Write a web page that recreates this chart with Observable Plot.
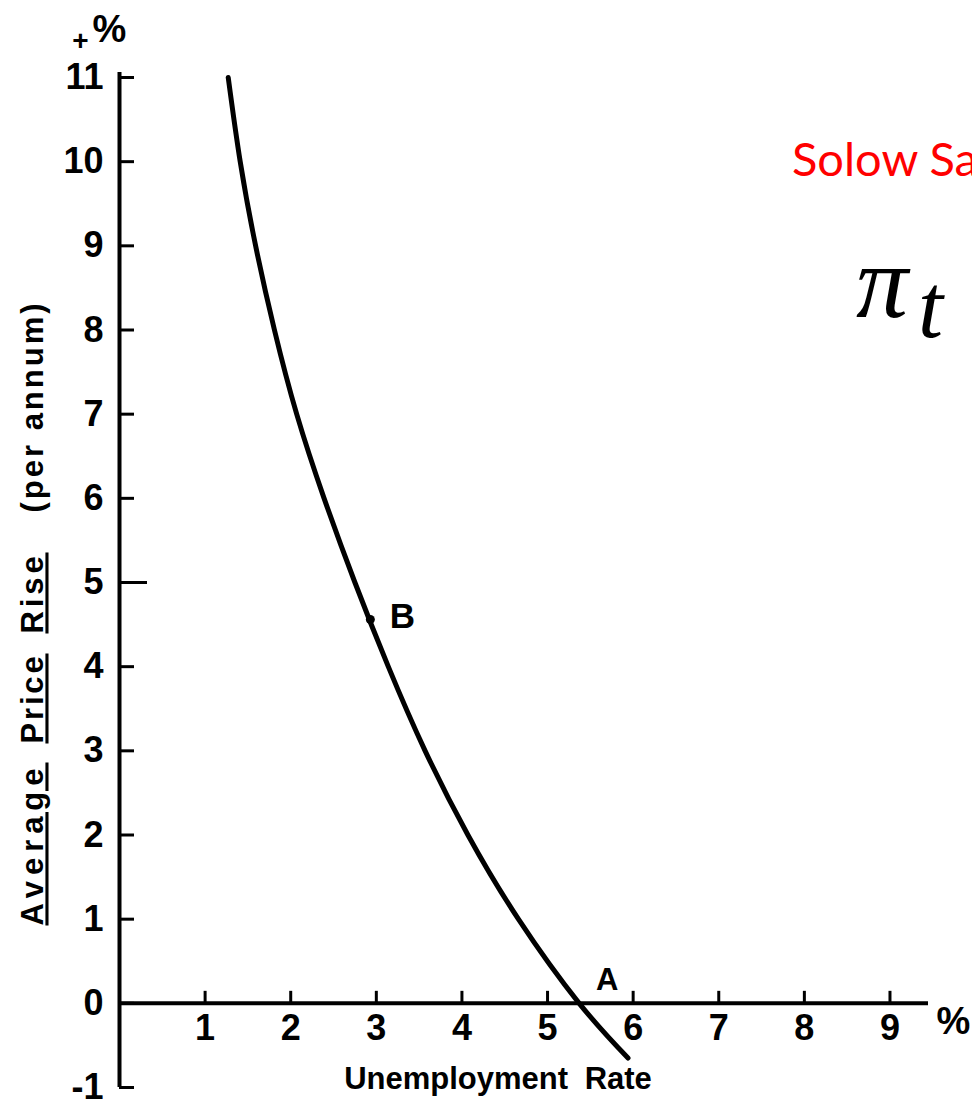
<!DOCTYPE html>
<html>
<head>
<meta charset="utf-8">
<script src="https://cdn.jsdelivr.net/npm/d3@7"></script>
<script src="https://cdn.jsdelivr.net/npm/@observablehq/plot@0.6"></script>
<style>
  html, body { margin: 0; padding: 0; background: #fff; overflow: hidden; width: 972px; height: 1120px; }
  #wrap { position: relative; width: 972px; height: 1120px; overflow: hidden; }
  #chart svg { display: block; }
  #overlay { position: absolute; left: 0; top: 0; pointer-events: none; }
</style>
</head>
<body>
<div id="wrap">
  <div id="chart"></div>
  <svg id="overlay" width="972" height="1120">
    <text id="slideTitle" x="792" y="176" fill="#ff0000" font-family="Lato, 'Open Sans', sans-serif" font-size="47"></text>
    <text id="piSym" x="856" y="317" fill="#000" font-family="'Liberation Serif', serif" font-style="italic" font-size="104"></text>
    <text id="piSub" x="918" y="337" fill="#000" font-family="'Liberation Serif', serif" font-style="italic" font-size="90"></text>
  </svg>
</div>
<script>
// ---- data (Samuelson–Solow Phillips curve) ----
const unemployment = [1.27, 1.41, 1.59, 1.81, 2.07, 2.39, 2.75, 3.14, 3.57, 4.07, 4.66, 5.37, 5.94];
const priceRise    = [11.0, 10.0, 9.0, 8.0, 7.0, 6.0, 5.0, 4.0, 3.0, 2.0, 1.0, 0.0, -0.65];
const xTickValues = [1, 2, 3, 4, 5, 6, 7, 8, 9];
const yTickValues = [-1, 0, 1, 2, 3, 4, 5, 6, 7, 8, 9, 10, 11];
const pointNames = ["A", "B"];
const pointU = [5.37, 2.93];
const pointP = [0, 4.56];
const xAxisLabel = "Unemployment Rate";
const yLabelWords = ["Average", "Price", "Rise", "(per annum)"];
const yLabelUnderlined = [true, true, true, false];
const slideTitle = "Solow Sa";
const slideSymbol = "π";
const slideSubscript = "t";

const curve = unemployment.map((u, i) => ({u, p: priceRise[i]}));
const pointA = [{name: pointNames[0], u: pointU[0], p: pointP[0]}];
const pointB = [{name: pointNames[1], u: pointU[1], p: pointP[1]}];

const font = "'Liberation Sans', Arial, sans-serif";
const fmt = d => d < 0 ? "-" + Math.abs(d) : String(d);
const mid = {textAnchor: "middle", lineAnchor: "middle"};

const chart = Plot.plot({
  width: 972,
  height: 1120,
  marginLeft: 119,
  marginRight: 44,
  marginTop: 77,
  marginBottom: 33,
  x: {domain: [0, 9.45], axis: null},
  y: {domain: [-1, 11]},
  style: {fontFamily: font, color: "#000", background: "#fff", overflow: "visible"},
  marks: [
    // axes lines
    Plot.ruleX([0], {y1: 11, y2: -1, insetTop: -5, stroke: "#000", strokeWidth: 4}),
    Plot.ruleY([0], {x1: 0, x2: 9.45, stroke: "#000", strokeWidth: 4}),
    // y ticks (pointing right, inside)
    Plot.ruleY(yTickValues.filter(v => v !== 5), {y: d => d, x1: 0, x2: 0, insetRight: -15, stroke: "#000", strokeWidth: 3}),
    Plot.ruleY([5], {y: d => d, x1: 0, x2: 0, insetRight: -28, stroke: "#000", strokeWidth: 3}),
    // x ticks (pointing up from the zero line)
    Plot.ruleX(xTickValues, {x: d => d, y1: 0, y2: 0, insetTop: -12, stroke: "#000", strokeWidth: 3}),
    // tick labels
    Plot.axisY(yTickValues, {anchor: "left", tickSize: 0, tickPadding: 16, fontSize: 36, fontWeight: "bold", tickFormat: fmt, label: null}),
    Plot.text(xTickValues, {x: d => d, y: 0, dy: 25, text: d => String(d), fontSize: 36, fontWeight: "bold", ...mid}),
    // curve
    Plot.line(curve, {x: "u", y: "p", curve: "natural", stroke: "#000", strokeWidth: 5, strokeLinecap: "round"}),
    Plot.dot(pointB, {x: "u", y: "p", r: 4.5, fill: "#000"}),
    Plot.text(pointB, {x: "u", y: "p", text: "name", dx: 32, dy: -3, fontSize: 35, fontWeight: "bold", ...mid}),
    Plot.text(pointA, {x: "u", y: "p", text: "name", dx: 28, dy: -23, fontSize: 31, fontWeight: "bold", ...mid}),
    // unit marks
    Plot.text(["+"], {frameAnchor: "top-left", text: d => d, dx: -39, dy: -36, fontSize: 28, fontWeight: "bold", ...mid}),
    Plot.text(["%"], {frameAnchor: "top-left", text: d => d, dx: -10, dy: -48, fontSize: 38, fontWeight: "bold", ...mid}),
    Plot.text(["%"], {frameAnchor: "right", y: 0, text: d => d, dx: 25, dy: 18, fontSize: 38, fontWeight: "bold", ...mid}),
    // axis titles
    Plot.text([xAxisLabel], {frameAnchor: "bottom", text: d => d, dx: -26, dy: -8, fontSize: 31, fontWeight: "bold", ...mid}),
    Plot.text([yLabelWords.join(" ")], {frameAnchor: "bottom-left", text: d => d, rotate: -90, textAnchor: "start", lineAnchor: "middle", dx: -86, dy: -162, fontSize: 31, fontWeight: "bold"})
  ]
});

document.getElementById("chart").appendChild(chart);

// style the axis titles: spacing and underlined words
const texts = Array.from(chart.querySelectorAll("text"));
const xt = texts.find(t => t.textContent === xAxisLabel);
if (xt) xt.style.wordSpacing = "8px";
const yt = texts.find(t => t.textContent === yLabelWords.join(" "));
if (yt) {
  // along-text start and length of each word, in px from the bottom of the title
  const wordStart = [0, 182, 292, 413];
  const wordLength = [163, 90, 81, 212];
  yt.textContent = "";
  yLabelWords.forEach((w, i) => {
    const ts = document.createElementNS("http://www.w3.org/2000/svg", "tspan");
    ts.setAttribute("x", wordStart[i]);
    if (yLabelUnderlined[i]) {
      ts.style.textDecoration = "underline";
      ts.style.textDecorationThickness = "2.5px";
      ts.style.textUnderlineOffset = "5px";
    }
    ts.textContent = w;
    yt.appendChild(ts);
    const natural = ts.getComputedTextLength();
    const ls = Math.max(0, (wordLength[i] - natural) / w.length);
    ts.style.letterSpacing = ls.toFixed(2) + "px";
  });
}

document.getElementById("slideTitle").textContent = slideTitle;
document.getElementById("piSym").textContent = slideSymbol;
document.getElementById("piSub").textContent = slideSubscript;
</script>
</body>
</html>
